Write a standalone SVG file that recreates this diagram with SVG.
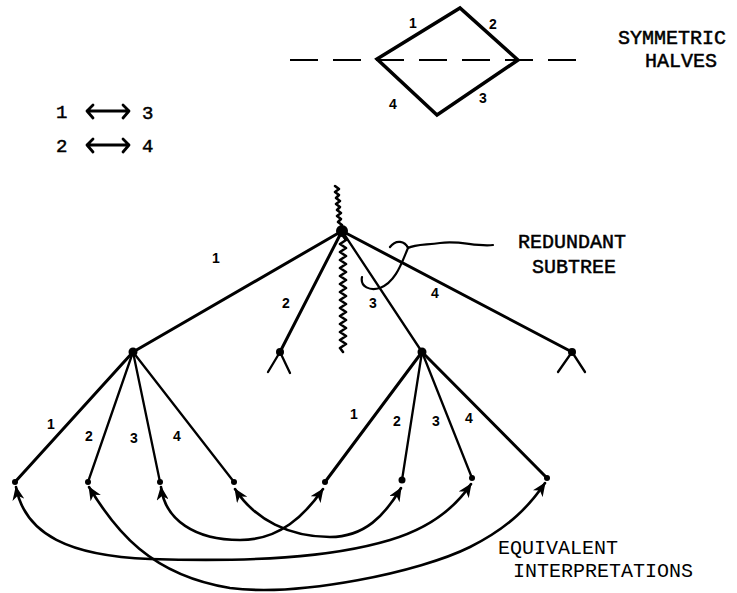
<svg xmlns="http://www.w3.org/2000/svg" width="737" height="593" viewBox="0 0 737 593">
<defs>
<style>
.edge{stroke:#000;stroke-width:3;fill:none;stroke-linecap:round;stroke-linejoin:round}
.thin{stroke:#000;stroke-width:2.3;fill:none;stroke-linecap:round}
.curve{stroke:#000;stroke-width:2.6;fill:none;stroke-linecap:round;marker-start:url(#ah);marker-end:url(#ah)}
.wavy{stroke:#000;stroke-width:2.6;fill:none;stroke-linejoin:round;stroke-linecap:round}
.dot{fill:#000}
.tt{font-family:"Liberation Mono","Courier New",monospace;font-size:20px;fill:#000}
.tb{stroke:#000;stroke-width:0.5}
.lbl{font-family:"Liberation Sans",Arial,sans-serif;font-size:14px;font-weight:bold;fill:#000}
.num{font-family:"Liberation Mono","Courier New",monospace;font-size:19px;fill:#000;stroke:#000;stroke-width:0.5}
</style>
<marker id="ah" viewBox="0 0 14 12" refX="13" refY="6" markerWidth="14" markerHeight="12" markerUnits="userSpaceOnUse" orient="auto-start-reverse">
<path d="M0,0 L14,6 L0,12 L4,6 z" fill="#000"/>
</marker>
</defs>

<g id="symmetric-halves">
<line x1="290" y1="60" x2="590" y2="60" stroke="#000" stroke-width="2.2" stroke-dasharray="28 15"/>
<path d="M377,59 L460,8 L518,60 L437,115 Z" fill="none" stroke="#000" stroke-width="3.5" stroke-linejoin="miter"/>
<text class="lbl" x="409" y="28">1</text>
<text class="lbl" x="489" y="29">2</text>
<text class="lbl" x="479" y="103">3</text>
<text class="lbl" x="389" y="109">4</text>
<text class="tt tb" x="618" y="44">SYMMETRIC</text>
<text class="tt tb" x="645" y="67">HALVES</text>
</g>

<g id="pairs">
<text class="num" x="56" y="118">1</text>
<text class="num" x="142" y="119">3</text>
<text class="num" x="56" y="152">2</text>
<text class="num" x="142" y="152">4</text>
<path d="M87,111 L129,111 M93,105 L87,111 L93,118 M123,105 L129,111 L123,118" fill="none" stroke="#000" stroke-width="2.8" stroke-linecap="round" stroke-linejoin="round"/>
<path d="M87,145 L129,145 M93,139 L87,145 L93,152 M123,139 L129,145 L123,152" fill="none" stroke="#000" stroke-width="2.8" stroke-linecap="round" stroke-linejoin="round"/>
</g>

<g id="connectors">
<line class="edge" x1="342" y1="231" x2="133" y2="352"/>
<line class="edge" x1="342" y1="231" x2="280" y2="352"/>
<line class="thin" x1="342" y1="231" x2="422" y2="352"/>
<line class="edge" x1="342" y1="231" x2="572" y2="352"/>
<path class="thin" d="M280,352 L268,372 M280,352 L290,373"/>
<path class="thin" d="M572,352 L558,372 M572,352 L585,372"/>
<line class="edge" x1="133" y1="352" x2="15" y2="482"/>
<line class="thin" x1="133" y1="352" x2="88" y2="482"/>
<line class="thin" x1="133" y1="352" x2="160" y2="482"/>
<line class="thin" x1="133" y1="352" x2="234" y2="482"/>
<line class="edge" x1="422" y1="352" x2="325" y2="482"/>
<line class="thin" x1="422" y1="352" x2="402" y2="480"/>
<line class="thin" x1="422" y1="352" x2="472" y2="478"/>
<line class="edge" x1="422" y1="352" x2="547" y2="478"/>
<path class="wavy" d="M335,186 L339,189 L335,192 L339,195 L336,198 L340,201 L336,204 L340,207 L337,210 L341,213 L337,216 L341,219 L338,222 L342,225 L340,229"/>
<path class="wavy" d="M343,236 L346,240 L340,244 L346,248 L340,252 L346,256 L340,260 L346,264 L340,268 L346,272 L340,276 L346,280 L340,284 L346,288 L340,292 L346,296 L340,300 L346,304 L340,308 L346,312 L340,316 L346,320 L340,324 L346,328 L340,332 L346,336 L340,340 L346,344 L340,348 L343,352"/>
<path d="M493,245 C475,247 460,240 440,243 C425,245 415,244 408,248 C402,262 396,282 380,288 C370,291 360,287 362,277 M408,248 C405,241 396,239 390,247" fill="none" stroke="#000" stroke-width="2.2" stroke-linecap="round"/>
<path class="curve" d="M16,487 C25,535 70,556 150,559 C250,562 330,558 390,540 C430,528 455,508 471,484"/>
<path class="curve" d="M89,487 C115,530 150,575 230,588 C300,597 420,572 470,547 C510,527 530,505 545,483"/>
<path class="curve" d="M161,487 C165,520 195,540 240,540 C280,540 305,515 323,489"/>
<path class="curve" d="M235,489 C255,520 290,537 330,537 C365,537 385,515 401,488"/>
<text class="lbl" x="212" y="263">1</text>
<text class="lbl" x="282" y="308">2</text>
<text class="lbl" x="369" y="308">3</text>
<text class="lbl" x="431" y="298">4</text>
<text class="lbl" x="47" y="429">1</text>
<text class="lbl" x="85" y="441">2</text>
<text class="lbl" x="130" y="443">3</text>
<text class="lbl" x="173" y="441">4</text>
<text class="lbl" x="350" y="419">1</text>
<text class="lbl" x="393" y="426">2</text>
<text class="lbl" x="432" y="426">3</text>
<text class="lbl" x="465" y="423">4</text>
</g>

<g id="root"><circle class="dot" cx="342" cy="231" r="6"/></g>
<g id="n-left"><circle class="dot" cx="133" cy="352" r="4.5"/></g>
<g id="n-2"><circle class="dot" cx="280" cy="352" r="4"/></g>
<g id="n-right"><circle class="dot" cx="422" cy="352" r="4.5"/></g>
<g id="n-4"><circle class="dot" cx="572" cy="352" r="4"/></g>
<g id="l1"><circle class="dot" cx="15" cy="482" r="3"/></g>
<g id="l2"><circle class="dot" cx="88" cy="482" r="3"/></g>
<g id="l3"><circle class="dot" cx="160" cy="482" r="3"/></g>
<g id="l4"><circle class="dot" cx="234" cy="482" r="3"/></g>
<g id="r1"><circle class="dot" cx="325" cy="482" r="3"/></g>
<g id="r2"><circle class="dot" cx="402" cy="480" r="3.5"/></g>
<g id="r3"><circle class="dot" cx="472" cy="478" r="3"/></g>
<g id="r4"><circle class="dot" cx="547" cy="478" r="3"/></g>

<g id="redundant-label">
<text class="tt tb" x="518" y="248">REDUNDANT</text>
<text class="tt tb" x="532" y="273">SUBTREE</text>
</g>
<g id="equivalent-label">
<text class="tt" x="498" y="554">EQUIVALENT</text>
<text class="tt" x="513" y="577">INTERPRETATIONS</text>
</g>
</svg>
